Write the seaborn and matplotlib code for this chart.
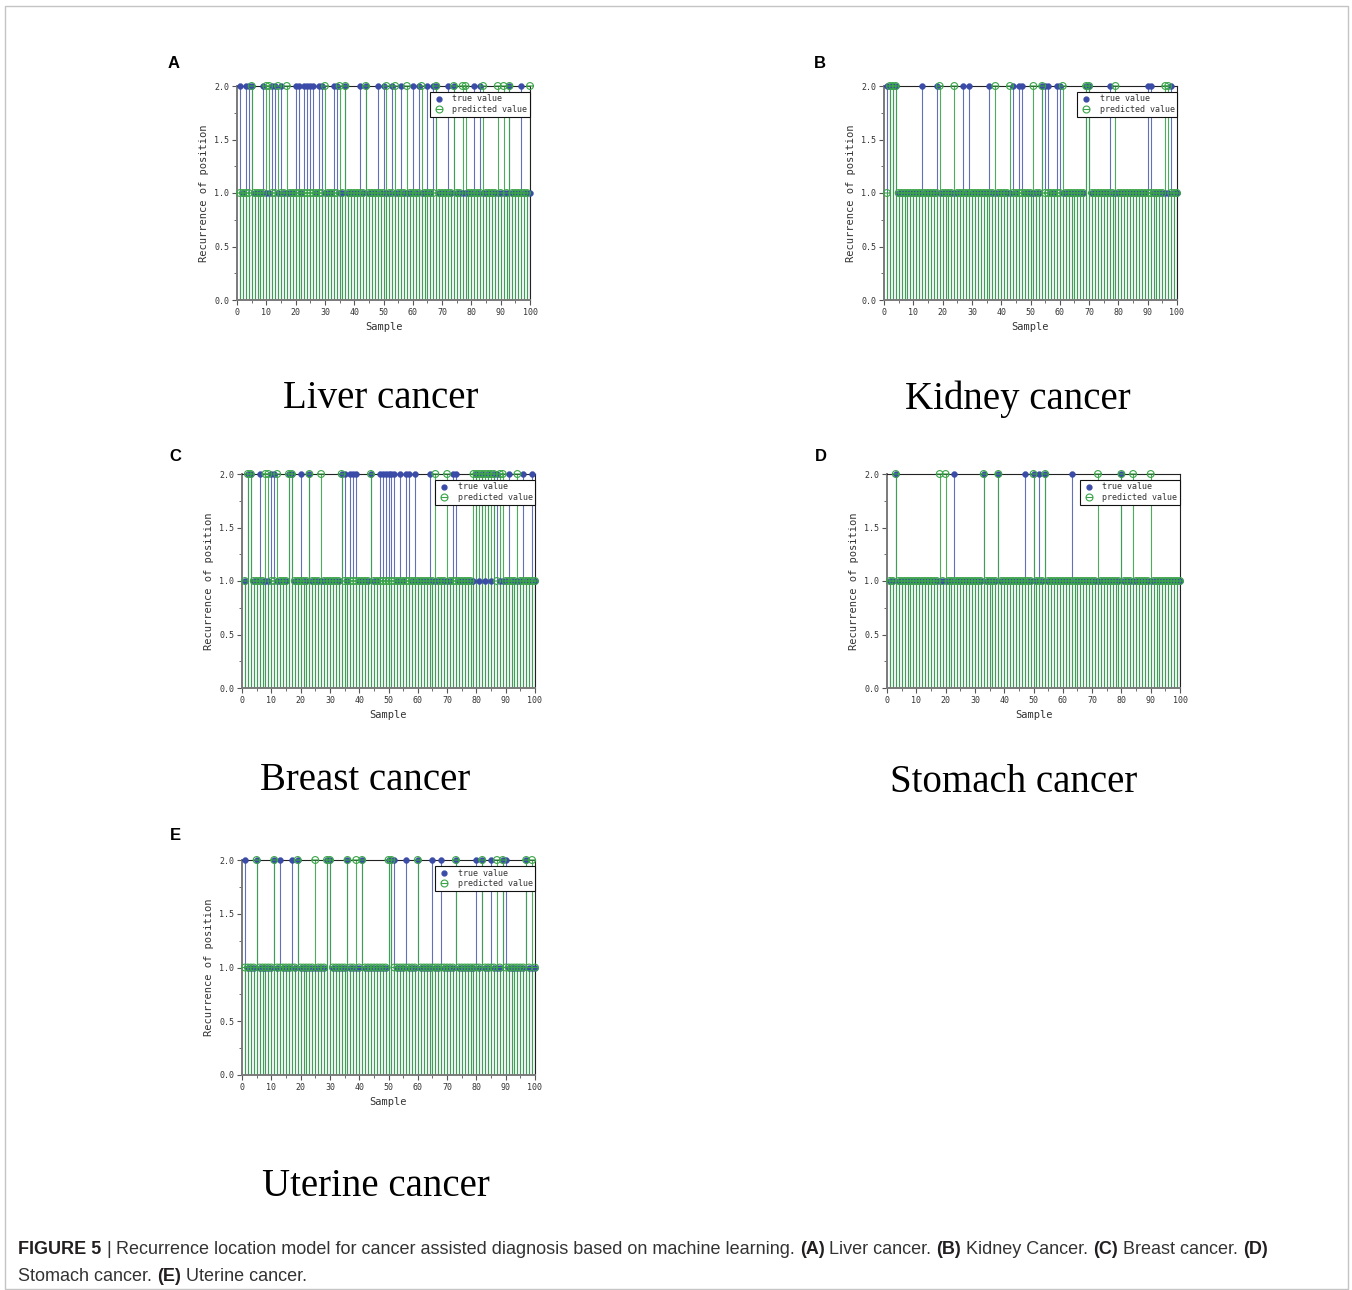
import numpy as np
import matplotlib
matplotlib.use('Agg')
import matplotlib.pyplot as plt
import seaborn as sns
from matplotlib.path import Path
from matplotlib.lines import Line2D
from matplotlib.ticker import MultipleLocator, FormatStrFormatter
from matplotlib.patches import Rectangle

samples = np.arange(1, 101)

# samples whose value is 2 (all other samples are 1)
liver_true_2 = [1, 3, 4, 5, 9, 12, 13, 15, 20, 21, 23, 24, 25, 26, 28, 29, 33, 34, 37, 42, 44,
                48, 50, 53, 56, 60, 62, 65, 67, 68, 72, 74, 81, 83, 93, 97]
liver_pred_2 = [5, 10, 11, 14, 17, 30, 35, 37, 44, 51, 54, 58, 63, 68, 74, 77, 78, 84, 89, 91, 93, 100]

kidney_true_2 = [1, 2, 3, 4, 13, 18, 27, 29, 36, 44, 46, 47, 54, 55, 56, 59, 60, 69, 70, 77, 90, 91, 98]
kidney_pred_2 = [2, 3, 4, 19, 24, 38, 43, 51, 54, 61, 69, 70, 79, 96, 97]

breast_true_2 = [2, 3, 6, 10, 11, 16, 17, 20, 23, 34, 35, 37, 38, 39, 44, 47, 48, 49, 50, 51, 52,
                 54, 56, 57, 59, 64, 72, 73, 80, 82, 84, 86, 87, 91, 96, 99]
breast_pred_2 = [2, 3, 8, 9, 12, 16, 17, 23, 27, 34, 44, 66, 70, 79, 80, 81, 82, 83, 84, 85, 86, 88, 89, 94]

stomach_true_2 = [3, 23, 33, 38, 47, 50, 52, 54, 63, 80]
stomach_pred_2 = [3, 18, 20, 33, 38, 50, 54, 72, 80, 84, 90]

uterine_true_2 = [1, 5, 11, 13, 17, 19, 29, 30, 36, 41, 50, 51, 52, 56, 60, 65, 68, 73, 80, 82, 85, 89, 90, 97]
uterine_pred_2 = [5, 11, 19, 25, 29, 30, 36, 39, 41, 50, 51, 60, 73, 82, 87, 89, 97, 99]

letters = ['A', 'B', 'C', 'D', 'E']
titles = ['Liver cancer', 'Kidney cancer', 'Breast cancer', 'Stomach cancer', 'Uterine cancer']
legend_labels = ['true value', 'predicted value']

sns.set_theme(style='white')
plt.rcParams['font.family'] = ['DejaVu Sans']

W, H = 1352, 1290
fig = plt.figure(figsize=(W / 100, H / 100), dpi=100)


def px_axes(l, t, r, b):
    return fig.add_axes([l / W, 1 - b / H, (r - l) / W, (b - t) / H])


blue = '#3B4BA8'
green = '#3AA548'
mono = 'DejaVu Sans Mono'
pred_marker = Path.make_compound_path(
    Path.unit_circle(), Path([[-1, 0], [1, 0]], [Path.MOVETO, Path.LINETO]))

# pixel layout: axes box, letter position, title position
layout = [
    ((237, 86, 530, 300), (174, 63), (381, 399)),
    ((884, 86, 1177, 300), (820, 63), (1018, 399)),
    ((242, 474, 535, 688), (175, 457), (365, 781)),
    ((887, 474, 1180, 688), (821, 457), (1014, 782)),
    ((242, 860, 535, 1075), (175, 835), (376, 1187)),
]
series = [
    (liver_true_2, liver_pred_2),
    (kidney_true_2, kidney_pred_2),
    (breast_true_2, breast_pred_2),
    (stomach_true_2, stomach_pred_2),
    (uterine_true_2, uterine_pred_2),
]

for letter, title, (t2, p2), (box, lpos, tpos) in zip(letters, titles, series, layout):
    ax = px_axes(*box)
    true_vals = np.where(np.isin(samples, t2), 2.0, 1.0)
    pred_vals = np.where(np.isin(samples, p2), 2.0, 1.0)

    ax.vlines(samples, 0, true_vals, color=blue, lw=0.8, alpha=0.8, zorder=1)
    ax.vlines(samples, 0, pred_vals, color=green, lw=0.8, alpha=0.9, zorder=2)
    sns.scatterplot(x=samples, y=true_vals, ax=ax, color=blue, s=18, edgecolor=blue,
                    linewidth=0.3, zorder=3, legend=False, clip_on=False)
    sns.scatterplot(x=samples, y=pred_vals, ax=ax, marker=pred_marker, s=24, color=green,
                    fc='none', ec=green, linewidth=0.8, zorder=4, legend=False, clip_on=False)

    ax.set_xlim(0, 100)
    ax.set_ylim(0, 2)
    ax.xaxis.set_major_locator(MultipleLocator(10))
    ax.xaxis.set_minor_locator(MultipleLocator(5))
    ax.yaxis.set_major_locator(MultipleLocator(0.5))
    ax.yaxis.set_minor_locator(MultipleLocator(0.25))
    ax.yaxis.set_major_formatter(FormatStrFormatter('%.1f'))
    ax.tick_params(which='both', direction='out', left=True, bottom=True,
                   labelsize=6, color='#555555', labelcolor='#333333', pad=2)
    ax.tick_params(which='major', length=3.5, width=0.8)
    ax.tick_params(which='minor', length=2, width=0.6)
    for lab in ax.get_xticklabels() + ax.get_yticklabels():
        lab.set_fontfamily(mono)
    for side in ['left', 'bottom']:
        ax.spines[side].set_color('#7a7a7a')
        ax.spines[side].set_linewidth(1.4)
    for side in ['top', 'right']:
        ax.spines[side].set_color('#222222')
        ax.spines[side].set_linewidth(0.8)
    ax.set_xlabel('Sample', fontfamily=mono, fontsize=7.5, color='#333333', labelpad=4)
    ax.set_ylabel('Recurrence of position', fontfamily=mono, fontsize=7.5,
                  color='#333333', labelpad=4)

    handles = [
        Line2D([], [], ls='none', marker='o', color=blue, ms=3.5),
        Line2D([], [], ls='none', marker=pred_marker, mfc='none', mec=green, mew=0.8, ms=5),
    ]
    leg = ax.legend(handles, legend_labels, loc='upper right', bbox_to_anchor=(1.0, 0.972),
                    borderaxespad=0, prop={'family': mono, 'size': 6}, frameon=True,
                    fancybox=False, framealpha=1, edgecolor='#111111', borderpad=0.3,
                    labelspacing=0.2, handlelength=1.6, handletextpad=0.8)
    leg.get_frame().set_linewidth(0.8)
    for txt in leg.get_texts():
        txt.set_color('#333333')

    fig.text(lpos[0] / W, 1 - lpos[1] / H, letter, fontsize=12, fontweight='bold',
             family='Liberation Sans', ha='center', va='center', color='black')
    fig.text(tpos[0] / W, 1 - tpos[1] / H, title, fontsize=28, family='Liberation Serif',
             ha='center', va='center', color='black')

# outer frame
fig.patches.append(Rectangle((5 / W, 1 / H), (1348 - 5) / W, (1284 - 1) / H,
                             transform=fig.transFigure, fill=False, ec='#c4c4c4', lw=1))

# caption with mixed weights
caption_lines = [
    [('FIGURE 5', True), ('|', False), ('Recurrence location model for cancer assisted diagnosis based on machine learning.', False),
     ('(A)', True), ('Liver cancer.', False), ('(B)', True), ('Kidney Cancer.', False),
     ('(C)', True), ('Breast cancer.', False), ('(D)', True)],
    [('Stomach cancer.', False), ('(E)', True), ('Uterine cancer.', False)],
]
renderer = fig.canvas.get_renderer()
cap_size = 13
probe1 = fig.text(0, 0, 'x x', fontsize=cap_size, family='Liberation Sans')
probe2 = fig.text(0, 0, 'xx', fontsize=cap_size, family='Liberation Sans')
space_w = probe1.get_window_extent(renderer).width - probe2.get_window_extent(renderer).width
probe1.remove()
probe2.remove()

for line, y in zip(caption_lines, [1254, 1281]):
    x = 18
    for txt, bold in line:
        t = fig.text(x / W, 1 - y / H, txt, fontsize=cap_size, family='Liberation Sans',
                     fontweight='bold' if bold else 'normal', va='baseline', ha='left',
                     color='#231f20' if bold else '#333333')
        x += t.get_window_extent(renderer).width + space_w

fig.savefig('out.png', dpi=100)
